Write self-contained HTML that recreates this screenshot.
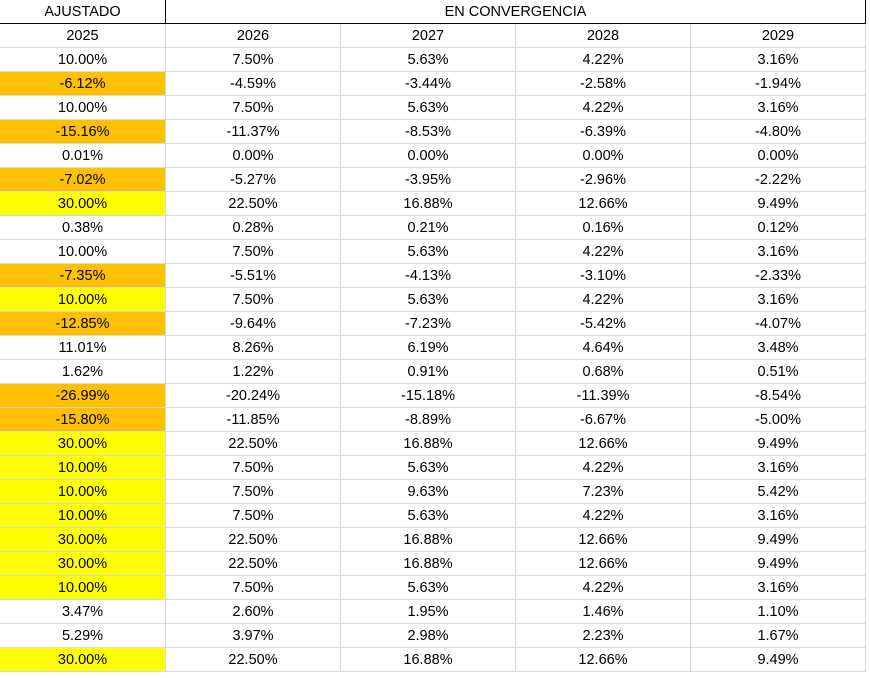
<!DOCTYPE html>
<html><head><meta charset="utf-8">
<style>
body{margin:0;width:870px;height:678px;background:#fff;position:relative;overflow:hidden;font-family:"Liberation Sans",sans-serif;font-size:14.5px;color:#000}
.c{position:absolute;height:24px;line-height:25px;text-align:center;box-sizing:border-box;border-right:1px solid #d9d9d9;border-bottom:1px solid #d9d9d9}
</style></head><body>
<div class="c" style="left:0;top:0;width:166px;border-right:1px solid #000;border-bottom:1px solid #000">AJUSTADO</div>
<div class="c" style="left:166px;top:0;width:700px;border-right:1px solid #000;border-bottom:1px solid #000">EN CONVERGENCIA</div>
<div id="grid"></div>
<script>
const years=["2025","2026","2027","2028","2029"];
const rows=[
["10.00%","7.50%","5.63%","4.22%","3.16%"],
["-6.12%","-4.59%","-3.44%","-2.58%","-1.94%"],
["10.00%","7.50%","5.63%","4.22%","3.16%"],
["-15.16%","-11.37%","-8.53%","-6.39%","-4.80%"],
["0.01%","0.00%","0.00%","0.00%","0.00%"],
["-7.02%","-5.27%","-3.95%","-2.96%","-2.22%"],
["30.00%","22.50%","16.88%","12.66%","9.49%"],
["0.38%","0.28%","0.21%","0.16%","0.12%"],
["10.00%","7.50%","5.63%","4.22%","3.16%"],
["-7.35%","-5.51%","-4.13%","-3.10%","-2.33%"],
["10.00%","7.50%","5.63%","4.22%","3.16%"],
["-12.85%","-9.64%","-7.23%","-5.42%","-4.07%"],
["11.01%","8.26%","6.19%","4.64%","3.48%"],
["1.62%","1.22%","0.91%","0.68%","0.51%"],
["-26.99%","-20.24%","-15.18%","-11.39%","-8.54%"],
["-15.80%","-11.85%","-8.89%","-6.67%","-5.00%"],
["30.00%","22.50%","16.88%","12.66%","9.49%"],
["10.00%","7.50%","5.63%","4.22%","3.16%"],
["10.00%","7.50%","9.63%","7.23%","5.42%"],
["10.00%","7.50%","5.63%","4.22%","3.16%"],
["30.00%","22.50%","16.88%","12.66%","9.49%"],
["30.00%","22.50%","16.88%","12.66%","9.49%"],
["10.00%","7.50%","5.63%","4.22%","3.16%"],
["3.47%","2.60%","1.95%","1.46%","1.10%"],
["5.29%","3.97%","2.98%","2.23%","1.67%"],
["30.00%","22.50%","16.88%","12.66%","9.49%"]];
const fills=["","o","","o","","o","y","","","o","y","o","","","o","o","y","y","y","y","y","y","y","","","y"];
const colX=[0,166,341,516,691];
const colW=[166,175,175,175,175];
const g=document.getElementById('grid');
function cell(txt,r,ci,bg){
  const d=document.createElement('div');
  d.className='c';
  
  
  d.style.left=colX[ci]+'px';d.style.top=(24+r*24)+'px';d.style.width=colW[ci]+'px';
  if(bg)d.style.background=bg;
  d.textContent=txt;g.appendChild(d);
}
years.forEach((y,i)=>cell(y,0,i,""));
rows.forEach((row,r)=>row.forEach((v,i)=>cell(v,r+1,i,i===0?(fills[r]==="o"?"#ffc000":fills[r]==="y"?"#ffff00":""):"")));
</script>
</body></html>
